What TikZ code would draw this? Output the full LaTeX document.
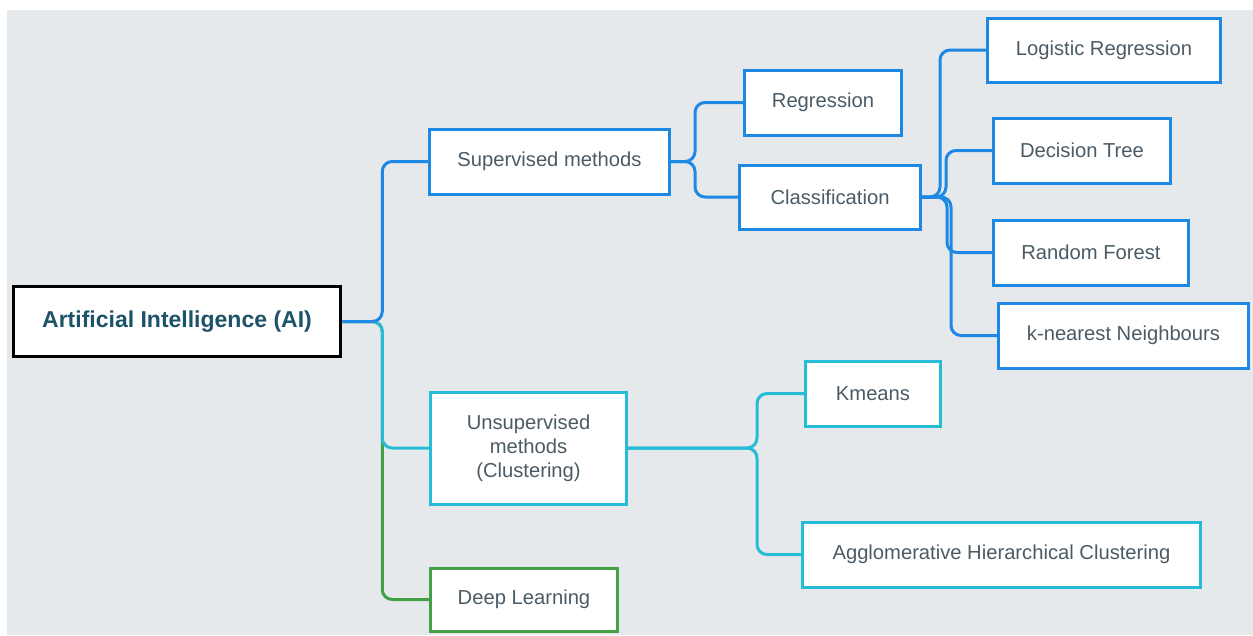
\documentclass[tikz,border=0pt]{standalone}
\usepackage{fontspec}
\setmainfont{Liberation Sans}
\usetikzlibrary{calc,backgrounds}
\definecolor{bgc}{HTML}{E6E9EC}
\definecolor{cblue}{HTML}{1E88E5}
\definecolor{ccyan}{HTML}{26BCD6}
\definecolor{cgreen}{HTML}{43A047}
\definecolor{ctext}{HTML}{4B5B66}
\definecolor{caitext}{HTML}{1D5368}
\tikzset{
  box/.style={draw, fill=white, line width=3pt, text=ctext, font=\fontsize{20.2}{24}\selectfont, align=center, inner sep=0pt},
  bluebox/.style={box, draw=cblue},
  cyanbox/.style={box, draw=ccyan},
  greenbox/.style={box, draw=cgreen},
  conn/.style={line width=3pt, rounded corners=10pt},
}
\begin{document}
\begin{tikzpicture}[x=1pt,y=-1pt]
\useasboundingbox (0,0) rectangle (1253,635);
\node[box, draw=black, line width=3.5pt, text=caitext, font=\fontsize{23}{28}\selectfont\bfseries, minimum width=327pt, minimum height=70pt] (ai) at (177,321.5) {Artificial Intelligence (AI)};
\node[bluebox, minimum width=240pt, minimum height=65pt] (sup) at (549.5,161.5) {Supervised methods};
\node[bluebox, minimum width=157pt, minimum height=65pt] (reg) at (823,102.5) {Regression};
\node[bluebox, minimum width=181pt, minimum height=64pt] (cls) at (830,197) {Classification};
\node[bluebox, minimum width=233pt, minimum height=64pt] (log) at (1104,50) {Logistic Regression};
\node[bluebox, minimum width=177pt, minimum height=65pt] (dt) at (1082,150.5) {Decision Tree};
\node[bluebox, minimum width=195pt, minimum height=65pt] (rf) at (1091,252.5) {Random Forest};
\node[bluebox, minimum width=250pt, minimum height=65pt] (knn) at (1123.5,335.5) {k-nearest Neighbours};
\node[cyanbox, minimum width=196pt, minimum height=112pt] (uns) at (528.5,448) {Unsupervised\\methods\\(Clustering)};
\node[cyanbox, minimum width=135pt, minimum height=65pt] (km) at (873,393.5) {Kmeans};
\node[cyanbox, minimum width=398pt, minimum height=65pt] (agg) at (1001.5,554.5) {Agglomerative Hierarchical Clustering};
\node[greenbox, minimum width=187pt, minimum height=63pt] (dl) at (524,599.5) {Deep Learning};
\begin{scope}[on background layer]
\fill[bgc] (7,10) rectangle (1253,635);
\draw[conn, cgreen] (ai.east) -- ($(ai.east)+(40,0)$) |- (dl.west);
\draw[conn, ccyan] (ai.east) -- ($(ai.east)+(40,0)$) |- (uns.west);
\draw[conn, cblue] (ai.east) -- ($(ai.east)+(40,0)$) |- (sup.west);
\draw[conn, cblue] (sup.east) -- ($(sup.east)+(24,0)$) |- (reg.west);
\draw[conn, cblue] (sup.east) -- ($(sup.east)+(24,0)$) |- (cls.west);
\draw[conn, cblue] (cls.east) -- ($(cls.east)+(18,0)$) |- (log.west);
\draw[conn, cblue] (cls.east) -- ($(cls.east)+(24,0)$) |- (dt.west);
\draw[conn, cblue] (cls.east) -- ($(cls.east)+(25,0)$) |- (rf.west);
\draw[conn, cblue] (cls.east) -- ($(cls.east)+(29,0)$) |- (knn.west);
\draw[conn, ccyan] (uns.east) -- ($(uns.east)+(129,0)$) |- (km.west);
\draw[conn, ccyan] (uns.east) -- ($(uns.east)+(129,0)$) |- (agg.west);
\end{scope}
\end{tikzpicture}
\end{document}
